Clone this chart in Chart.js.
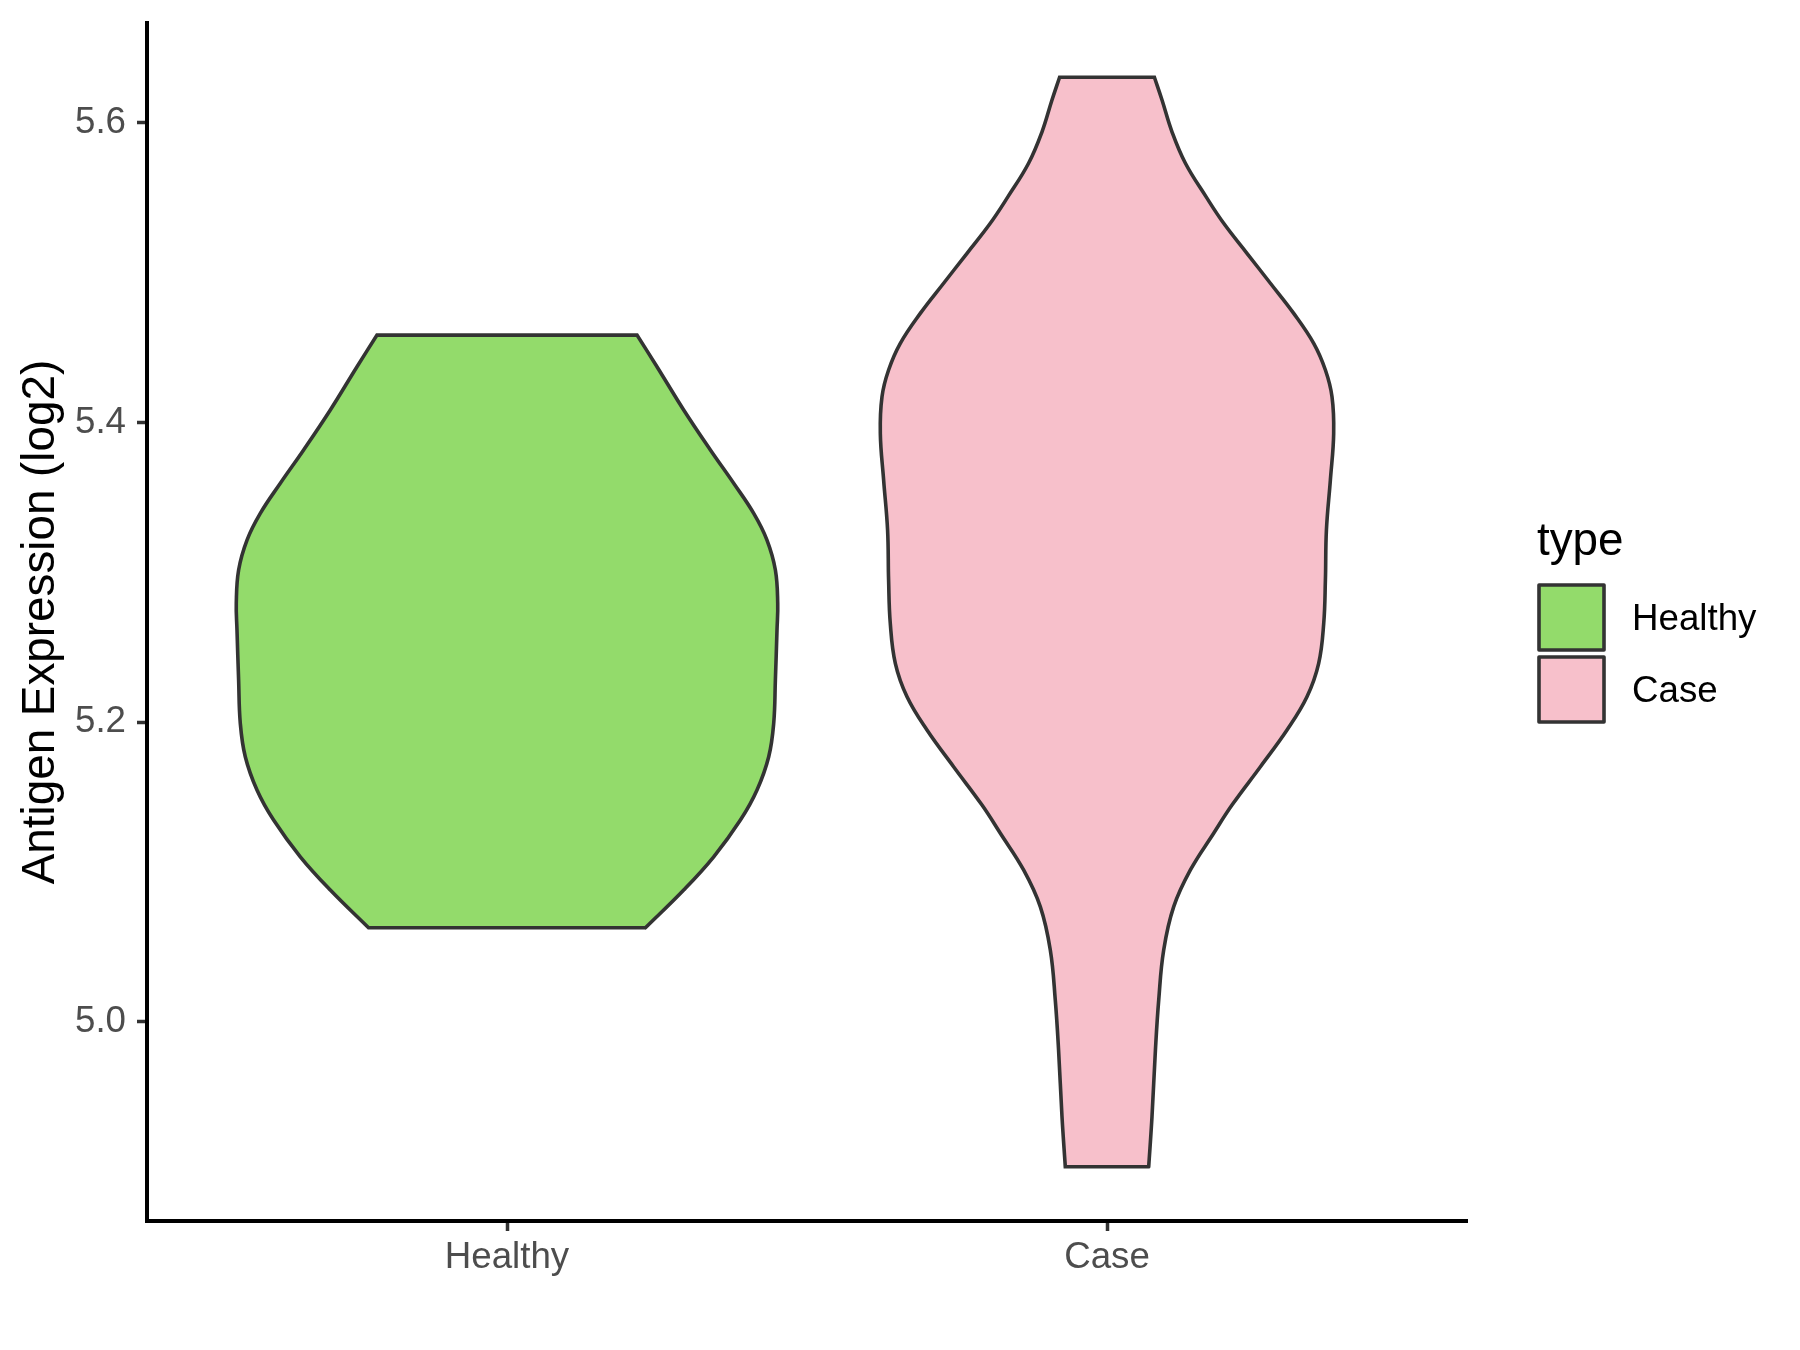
<!DOCTYPE html>
<html>
<head>
<meta charset="utf-8">
<script src="https://cdn.jsdelivr.net/npm/chart.js@4.4.1/dist/chart.umd.min.js"></script>
<style>
  html, body { margin: 0; padding: 0; background: #fff; }
  canvas { display: block; }
</style>
</head>
<body>
<canvas id="violin" width="1800" height="1350"></canvas>
<script>
const categories = ['Healthy', 'Case'];
const yTicks = [5.0, 5.2, 5.4, 5.6];

// violin outlines: expression level and half width (in category units)
const healthyLevels    = [5.0627, 5.0879, 5.1101, 5.1346, 5.1547, 5.1769, 5.1992, 5.2281, 5.2614, 5.2793, 5.3015, 5.3215, 5.3393, 5.3594, 5.3816, 5.4083, 5.4372, 5.4583];
const healthyHalfWidth = [0.2307, 0.2945, 0.3445, 0.3890, 0.4167, 0.4362, 0.4445, 0.4473, 0.4500, 0.4512, 0.4473, 0.4333, 0.4112, 0.3778, 0.3390, 0.2945, 0.2500, 0.2167];

const caseLevels    = [4.9032, 4.9366, 4.9811, 5.0145, 5.0479, 5.0768, 5.1013, 5.1258, 5.1446, 5.1702, 5.1947, 5.2169, 5.2392, 5.2659, 5.2948, 5.3282, 5.3616, 5.3927, 5.4172, 5.4350, 5.4528, 5.4728, 5.4929, 5.5129, 5.5329, 5.5507, 5.5730, 5.5940, 5.6152, 5.6304];
const caseHalfWidth = [0.0695, 0.0750, 0.0807, 0.0862, 0.0945, 0.1112, 0.1390, 0.1778, 0.2083, 0.2557, 0.3000, 0.3333, 0.3528, 0.3612, 0.3640, 0.3657, 0.3723, 0.3778, 0.3750, 0.3640, 0.3445, 0.3112, 0.2723, 0.2333, 0.1945, 0.1650, 0.1307, 0.1083, 0.0917, 0.0790];

const fillColors = ['#93DB6B', '#F7C0CB'];
const outlineColor = '#333333';

Chart.defaults.font.family = '"Liberation Sans", Arial, sans-serif';

// closed outline: right side up, flat top, left side down, flat bottom
// corner points are doubled so the spline keeps them sharp
function violinOutline(center, levels, halfWidths) {
  const right = levels.map((y, i) => ({ x: center + halfWidths[i], y: y }));
  const left = levels.map((y, i) => ({ x: center - halfWidths[i], y: y })).reverse();
  const pts = right.slice();
  pts.push(right[right.length - 1]);
  pts.push(left[0]);
  pts.push(...left);
  pts.push(left[left.length - 1]);
  pts.push(right[0]);
  return pts;
}

const legendPlugin = {
  id: 'typeLegend',
  afterDraw(chart) {
    const ctx = chart.ctx;
    ctx.save();
    ctx.fillStyle = '#000';
    ctx.textBaseline = 'alphabetic';
    ctx.textAlign = 'left';
    ctx.font = '45.8px "Liberation Sans", Arial, sans-serif';
    ctx.fillText('type', 1537, 555);
    ctx.font = '36.7px "Liberation Sans", Arial, sans-serif';
    categories.forEach((name, i) => {
      const top = 585 + i * 72;
      ctx.fillStyle = fillColors[i];
      ctx.fillRect(1539, top, 65, 65);
      ctx.lineWidth = 3.6;
      ctx.lineJoin = 'round';
      ctx.strokeStyle = outlineColor;
      ctx.strokeRect(1539, top, 65, 65);
      ctx.fillStyle = '#000';
      ctx.fillText(name, 1632, top + 45);
    });
    ctx.restore();
  }
};

function violinDataset(index) {
  const levels = index === 0 ? healthyLevels : caseLevels;
  const widths = index === 0 ? healthyHalfWidth : caseHalfWidth;
  return {
    label: categories[index],
    data: violinOutline(index + 1, levels, widths),
    showLine: true,
    fill: 'shape',
    backgroundColor: fillColors[index],
    borderColor: outlineColor,
    borderWidth: 3.6,
    borderCapStyle: 'round',
    tension: 0.4,
    pointRadius: 0
  };
}

new Chart(document.getElementById('violin'), {
  type: 'scatter',
  data: {
    datasets: [violinDataset(0), violinDataset(1)]
  },
  options: {
    responsive: false,
    animation: false,
    events: [],
    layout: { padding: { top: 23, right: 333, left: 0, bottom: 0 } },
    plugins: {
      legend: { display: false },
      tooltip: { enabled: false }
    },
    scales: {
      x: {
        type: 'linear',
        min: 0.4,
        max: 2.6,
        afterBuildTicks: scale => { scale.ticks = categories.map((c, i) => ({ value: i + 1 })); },
        afterFit: scale => {
          scale.height = 129;
          scale.paddingLeft = 0;
          scale.paddingRight = 0;
        },
        ticks: {
          callback: (value) => categories[Math.round(value) - 1],
          color: '#4D4D4D',
          font: { size: 36.7 },
          padding: 5,
          maxRotation: 0
        },
        grid: { display: true, drawOnChartArea: false, tickLength: 10, tickColor: outlineColor, tickWidth: 3.5 },
        border: { display: true, color: '#000', width: 4 }
      },
      y: {
        type: 'linear',
        min: 4.867,
        max: 5.6666,
        afterBuildTicks: scale => { scale.ticks = yTicks.map(v => ({ value: v })); },
        afterFit: scale => {
          scale.width = 147;
          scale.paddingTop = 0;
          scale.paddingBottom = 0;
        },
        ticks: {
          callback: (value) => value.toFixed(1),
          color: '#4D4D4D',
          font: { size: 36.7 },
          padding: 11
        },
        grid: { display: true, drawOnChartArea: false, tickLength: 10, tickColor: outlineColor, tickWidth: 3.5 },
        border: { display: true, color: '#000', width: 4 },
        title: {
          display: true,
          text: 'Antigen Expression (log2)',
          color: '#000',
          font: { size: 45.8 },
          padding: { top: 14, bottom: 0 }
        }
      }
    }
  },
  plugins: [legendPlugin]
});
</script>
</body>
</html>
